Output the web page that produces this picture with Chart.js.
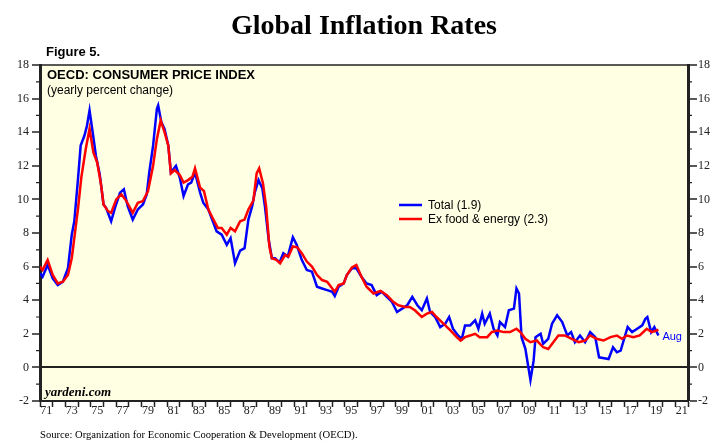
<!DOCTYPE html>
<html>
<head>
<meta charset="utf-8">
<script src="https://cdn.jsdelivr.net/npm/chart.js@4.4.1/dist/chart.umd.min.js"></script>
<style>
  body { margin: 0; background: #fff; }
  canvas { display: block; }
</style>
</head>
<body>
<canvas id="chart" width="718" height="446"></canvas>
<script>
// OECD CPI, yearly % change
const totalYears = [1971.0, 1971.2, 1971.6, 1972.0, 1972.4, 1972.8, 1973.2, 1973.5, 1973.7, 1974.0,
  1974.2, 1974.5, 1974.7, 1974.9, 1975.2, 1975.4, 1975.7, 1976.0, 1976.2, 1976.6,
  1976.9, 1977.3, 1977.6, 1977.9, 1978.3, 1978.7, 1979.1, 1979.4, 1979.6, 1979.9,
  1980.2, 1980.3, 1980.55, 1980.8, 1981.1, 1981.3, 1981.7, 1982.0, 1982.3, 1982.65,
  1982.9, 1983.2, 1983.6, 1983.85, 1984.25, 1984.6, 1984.9, 1985.3, 1985.7, 1986.0,
  1986.35, 1986.75, 1987.1, 1987.4, 1987.7, 1987.9, 1988.2, 1988.5, 1988.7, 1989.0,
  1989.25, 1989.5, 1989.85, 1990.15, 1990.5, 1990.9, 1991.2, 1991.6, 1992.0, 1992.4,
  1992.8, 1993.2, 1993.6, 1994.0, 1994.2, 1994.5, 1994.9, 1995.15, 1995.55, 1995.9,
  1996.3, 1996.7, 1997.1, 1997.5, 1997.9, 1998.3, 1998.7, 1999.1, 1999.5, 1999.9,
  2000.3, 2000.7, 2001.05, 2001.45, 2001.7, 2002.1, 2002.5, 2002.9, 2003.2, 2003.5,
  2003.9, 2004.2, 2004.45, 2004.85, 2005.25, 2005.5, 2005.8, 2006.0, 2006.4, 2006.7,
  2007.0, 2007.2, 2007.6, 2007.9, 2008.3, 2008.5, 2008.7, 2008.9, 2009.2, 2009.6,
  2009.85, 2010.0, 2010.4, 2010.6, 2011.0, 2011.3, 2011.7, 2012.1, 2012.5, 2012.8,
  2013.1, 2013.5, 2013.9, 2014.3, 2014.7, 2015.0, 2015.4, 2015.75, 2016.1, 2016.4,
  2016.7, 2017.05, 2017.25, 2017.6, 2018.0, 2018.4, 2018.65, 2018.8, 2019.1, 2019.35,
  2019.67];
const totalValues = [5.6, 5.4, 6.1, 5.3, 4.9, 5.1, 5.9, 7.9, 8.7, 11.3,
  13.2, 13.8, 14.4, 15.3, 13.7, 12.6, 11.5, 9.7, 9.5, 8.7,
  9.5, 10.4, 10.6, 9.6, 8.8, 9.4, 9.7, 10.3, 11.6, 13.2,
  15.4, 15.6, 14.6, 14.2, 13.2, 11.6, 12.0, 11.3, 10.2, 10.9,
  11.0, 11.6, 10.4, 9.8, 9.4, 8.7, 8.1, 7.9, 7.3, 7.7,
  6.2, 6.95, 7.1, 8.8, 9.6, 10.4, 11.15, 10.65, 9.6, 7.6,
  6.5, 6.5, 6.25, 6.8, 6.6, 7.75, 7.3, 6.4, 5.8, 5.7,
  4.8, 4.7, 4.6, 4.5, 4.25, 4.8, 5.0, 5.5, 5.9, 5.9,
  5.4, 5.0, 4.9, 4.3, 4.5, 4.2, 3.9, 3.3, 3.5, 3.7,
  4.2, 3.7, 3.4, 4.1, 3.3, 3.0, 2.4, 2.6, 3.0, 2.3,
  1.9, 1.7, 2.5, 2.5, 2.8, 2.3, 3.2, 2.6, 3.2, 2.3,
  1.9, 2.7, 2.4, 3.4, 3.5, 4.7, 4.4, 1.8, 1.1, -0.75,
  0.4, 1.8, 2.0, 1.4, 1.7, 2.6, 3.1, 2.7, 1.9, 2.1,
  1.5, 1.9, 1.5, 2.1, 1.8, 0.6, 0.55, 0.5, 1.2, 0.9,
  1.0, 1.9, 2.4, 2.1, 2.3, 2.5, 2.9, 3.0, 2.1, 2.4,
  1.9];

const coreYears = [1971.0, 1971.2, 1971.6, 1972.0, 1972.4, 1972.8, 1973.2, 1973.5, 1973.7, 1974.0,
  1974.25, 1974.6, 1974.9, 1975.2, 1975.5, 1975.8, 1976.0, 1976.35, 1976.6, 1977.0,
  1977.4, 1977.8, 1978.3, 1978.7, 1979.1, 1979.5, 1979.9, 1980.2, 1980.5, 1980.8,
  1981.1, 1981.3, 1981.6, 1982.0, 1982.3, 1982.65, 1983.0, 1983.2, 1983.6, 1983.9,
  1984.25, 1984.65, 1985.0, 1985.3, 1985.7, 1986.0, 1986.35, 1986.75, 1987.1, 1987.4,
  1987.8, 1988.05, 1988.25, 1988.55, 1988.8, 1989.05, 1989.25, 1989.6, 1989.9, 1990.3,
  1990.55, 1990.9, 1991.25, 1991.6, 1992.0, 1992.4, 1992.8, 1993.2, 1993.6, 1994.0,
  1994.2, 1994.5, 1994.9, 1995.15, 1995.55, 1995.9, 1996.3, 1996.7, 1997.25, 1997.8,
  1998.3, 1998.8, 1999.2, 1999.75, 2000.1, 2000.5, 2001.05, 2001.45, 2001.85, 2002.2,
  2002.75, 2003.3, 2003.8, 2004.1, 2004.45, 2004.85, 2005.25, 2005.6, 2006.2, 2006.55,
  2007.0, 2007.5, 2008.0, 2008.5, 2008.8, 2009.2, 2009.6, 2010.1, 2010.6, 2011.0,
  2011.4, 2011.8, 2012.3, 2012.85, 2013.4, 2013.9, 2014.3, 2014.8, 2015.35, 2015.9,
  2016.4, 2016.8, 2017.2, 2017.7, 2018.2, 2018.75, 2019.15, 2019.55, 2019.67];
const coreValues = [6.0, 5.8, 6.4, 5.5, 5.0, 5.1, 5.5, 6.5, 7.7, 9.5,
  11.3, 13.0, 14.2, 12.8, 12.2, 10.9, 9.7, 9.3, 9.2, 10.0,
  10.3, 9.9, 9.2, 9.8, 9.9, 10.5, 12.0, 13.6, 14.7, 14.0,
  13.2, 11.55, 11.75, 11.45, 11.0, 11.15, 11.35, 11.85, 10.7, 10.5,
  9.4, 8.8, 8.3, 8.3, 7.9, 8.3, 8.1, 8.7, 8.8, 9.4,
  9.95, 11.55, 11.85, 10.95, 9.55, 7.2, 6.5, 6.4, 6.2, 6.7,
  6.6, 7.2, 7.15, 6.8, 6.3, 6.0, 5.5, 5.2, 5.1, 4.7,
  4.5, 4.9, 5.0, 5.5, 5.95, 6.1, 5.4, 4.8, 4.4, 4.55,
  4.3, 3.9, 3.7, 3.6, 3.6, 3.4, 3.0, 3.2, 3.3, 3.0,
  2.6, 2.2, 1.8, 1.6, 1.8, 1.9, 2.0, 1.8, 1.8, 2.1,
  2.2, 2.1, 2.1, 2.3, 2.1, 1.7, 1.5, 1.6, 1.2, 1.1,
  1.5, 1.9, 1.9, 1.7, 1.5, 1.6, 1.9, 1.7, 1.6, 1.8,
  1.9, 1.7, 1.9, 1.8, 1.9, 2.3, 2.1, 2.2, 2.25];

const seriesNames = ['Total (1.9)', 'Ex food & energy (2.3)'];
const seriesColors = ['#0000ff', '#ff0000'];
const yearLabels = ['71', '73', '75', '77', '79', '81', '83', '85', '87', '89', '91', '93', '95',
  '97', '99', '01', '03', '05', '07', '09', '11', '13', '15', '17', '19', '21'];
const lastMonth = 'Aug';

const toPoints = (xs, ys) => xs.map((x, i) => ({ x: x, y: ys[i] }));
const labelAt = {};
yearLabels.forEach(l => {
  const n = parseInt(l, 10);
  labelAt[(n >= 50 ? 1900 + n : 2000 + n) + 0.5] = l;
});

const INK = '#222';
const serif = 'Liberation Serif, Times New Roman, serif';
const sans = 'Liberation Sans, Arial, sans-serif';

const decor = {
  id: 'decor',
  beforeDraw(chart) {
    const { ctx, chartArea: a } = chart;
    ctx.save();
    ctx.fillStyle = '#ffffe3';
    ctx.fillRect(a.left, a.top, a.right - a.left, a.bottom - a.top);
    ctx.restore();
  },
  afterDraw(chart) {
    const { ctx, chartArea: a, scales } = chart;
    ctx.save();
    // top frame
    ctx.strokeStyle = INK;
    ctx.lineWidth = 1.5;
    ctx.beginPath();
    ctx.moveTo(a.left, a.top);
    ctx.lineTo(a.right, a.top);
    ctx.stroke();

    // minor ticks on the value axes
    ctx.lineWidth = 1.2;
    for (let v = -1; v < 18; v += 2) {
      const py = scales.y.getPixelForValue(v);
      ctx.beginPath();
      ctx.moveTo(a.left - 4, py); ctx.lineTo(a.left, py);
      ctx.moveTo(a.right, py); ctx.lineTo(a.right + 4, py);
      ctx.stroke();
    }

    // titles
    ctx.fillStyle = '#000';
    ctx.textBaseline = 'alphabetic';
    ctx.textAlign = 'center';
    ctx.font = 'bold 28px ' + serif;
    ctx.fillText('Global Inflation Rates', 364, 34);
    ctx.textAlign = 'left';
    ctx.font = 'bold 13px ' + sans;
    ctx.fillText('Figure 5.', 46, 56);
    ctx.font = 'bold 13px ' + sans;
    ctx.fillText('OECD: CONSUMER PRICE INDEX', 47, 79);
    ctx.font = '12px ' + sans;
    ctx.fillText('(yearly percent change)', 47, 94);
    ctx.font = 'italic bold 13px ' + serif;
    ctx.fillText('yardeni.com', 45, 396);
    ctx.font = '10.6px ' + serif;
    ctx.fillText('Source: Organization for Economic Cooperation & Development (OECD).', 40, 438);

    // legend
    const rows = [205, 219];
    ctx.font = '12px ' + sans;
    ctx.textBaseline = 'middle';
    seriesNames.forEach((name, i) => {
      ctx.strokeStyle = seriesColors[i];
      ctx.lineWidth = 2.5;
      ctx.beginPath();
      ctx.moveTo(399, rows[i]);
      ctx.lineTo(422, rows[i]);
      ctx.stroke();
      ctx.fillStyle = '#000';
      ctx.fillText(name, 428, rows[i] + 1);
    });

    // last data point label
    const lx = scales.x.getPixelForValue(totalYears[totalYears.length - 1]);
    const ly = scales.y.getPixelForValue(totalValues[totalValues.length - 1]);
    ctx.fillStyle = seriesColors[0];
    ctx.font = '11px ' + sans;
    ctx.fillText(lastMonth, lx + 4, ly + 1);
    ctx.restore();
  }
};

const yAxis = (pos, width, pad, len) => ({
  type: 'linear',
  position: pos,
  min: -2,
  max: 18,
  afterFit(scale) { scale.width = width; },
  ticks: {
    stepSize: 2,
    padding: pad,
    color: INK,
    font: { family: serif, size: 12 },
    callback: v => String(v)
  },
  border: { display: true, color: INK, width: 3 },
  grid: {
    drawOnChartArea: pos === 'left',
    color: c => (c.tick && c.tick.value === 0 ? INK : 'rgba(0,0,0,0)'),
    lineWidth: c => (c.tick && c.tick.value === 0 ? 2 : 0),
    tickColor: INK,
    tickWidth: 1.5,
    tickLength: len
  }
});

new Chart(document.getElementById('chart'), {
  type: 'line',
  data: {
    datasets: [
      {
        label: seriesNames[0],
        data: toPoints(totalYears, totalValues),
        borderColor: seriesColors[0],
        borderWidth: 2.5,
        pointRadius: 0,
        tension: 0,
        order: 1
      },
      {
        label: seriesNames[1],
        data: toPoints(coreYears, coreValues),
        borderColor: seriesColors[1],
        borderWidth: 2.5,
        pointRadius: 0,
        tension: 0,
        order: 0
      }
    ]
  },
  options: {
    responsive: false,
    animation: false,
    layout: { padding: { top: 65, left: 0, right: 0, bottom: 0 } },
    plugins: { legend: { display: false }, tooltip: { enabled: false } },
    scales: {
      x: {
        type: 'linear',
        min: 1971,
        max: 2022,
        afterFit(scale) { scale.height = 45; },
        afterBuildTicks(scale) {
          const t = [];
          for (let y = 1971; y <= 2022; y++) t.push({ value: y });
          Object.keys(labelAt).forEach(k => t.push({ value: parseFloat(k) }));
          t.sort((p, q) => p.value - q.value);
          scale.ticks = t;
        },
        ticks: {
          autoSkip: false,
          maxRotation: 0,
          padding: -3,
          color: INK,
          font: { family: serif, size: 12 },
          callback: v => labelAt[v] || ''
        },
        border: { display: true, color: INK, width: 2 },
        grid: {
          drawOnChartArea: false,
          tickColor: c => (c.tick && Number.isInteger(c.tick.value) ? INK : 'rgba(0,0,0,0)'),
          tickWidth: 1.5,
          tickLength: 6
        }
      },
      y: yAxis('left', 40, 3, 8),
      y2: yAxis('right', 30, 1, 9)
    }
  },
  plugins: [decor]
});
</script>
</body>
</html>
